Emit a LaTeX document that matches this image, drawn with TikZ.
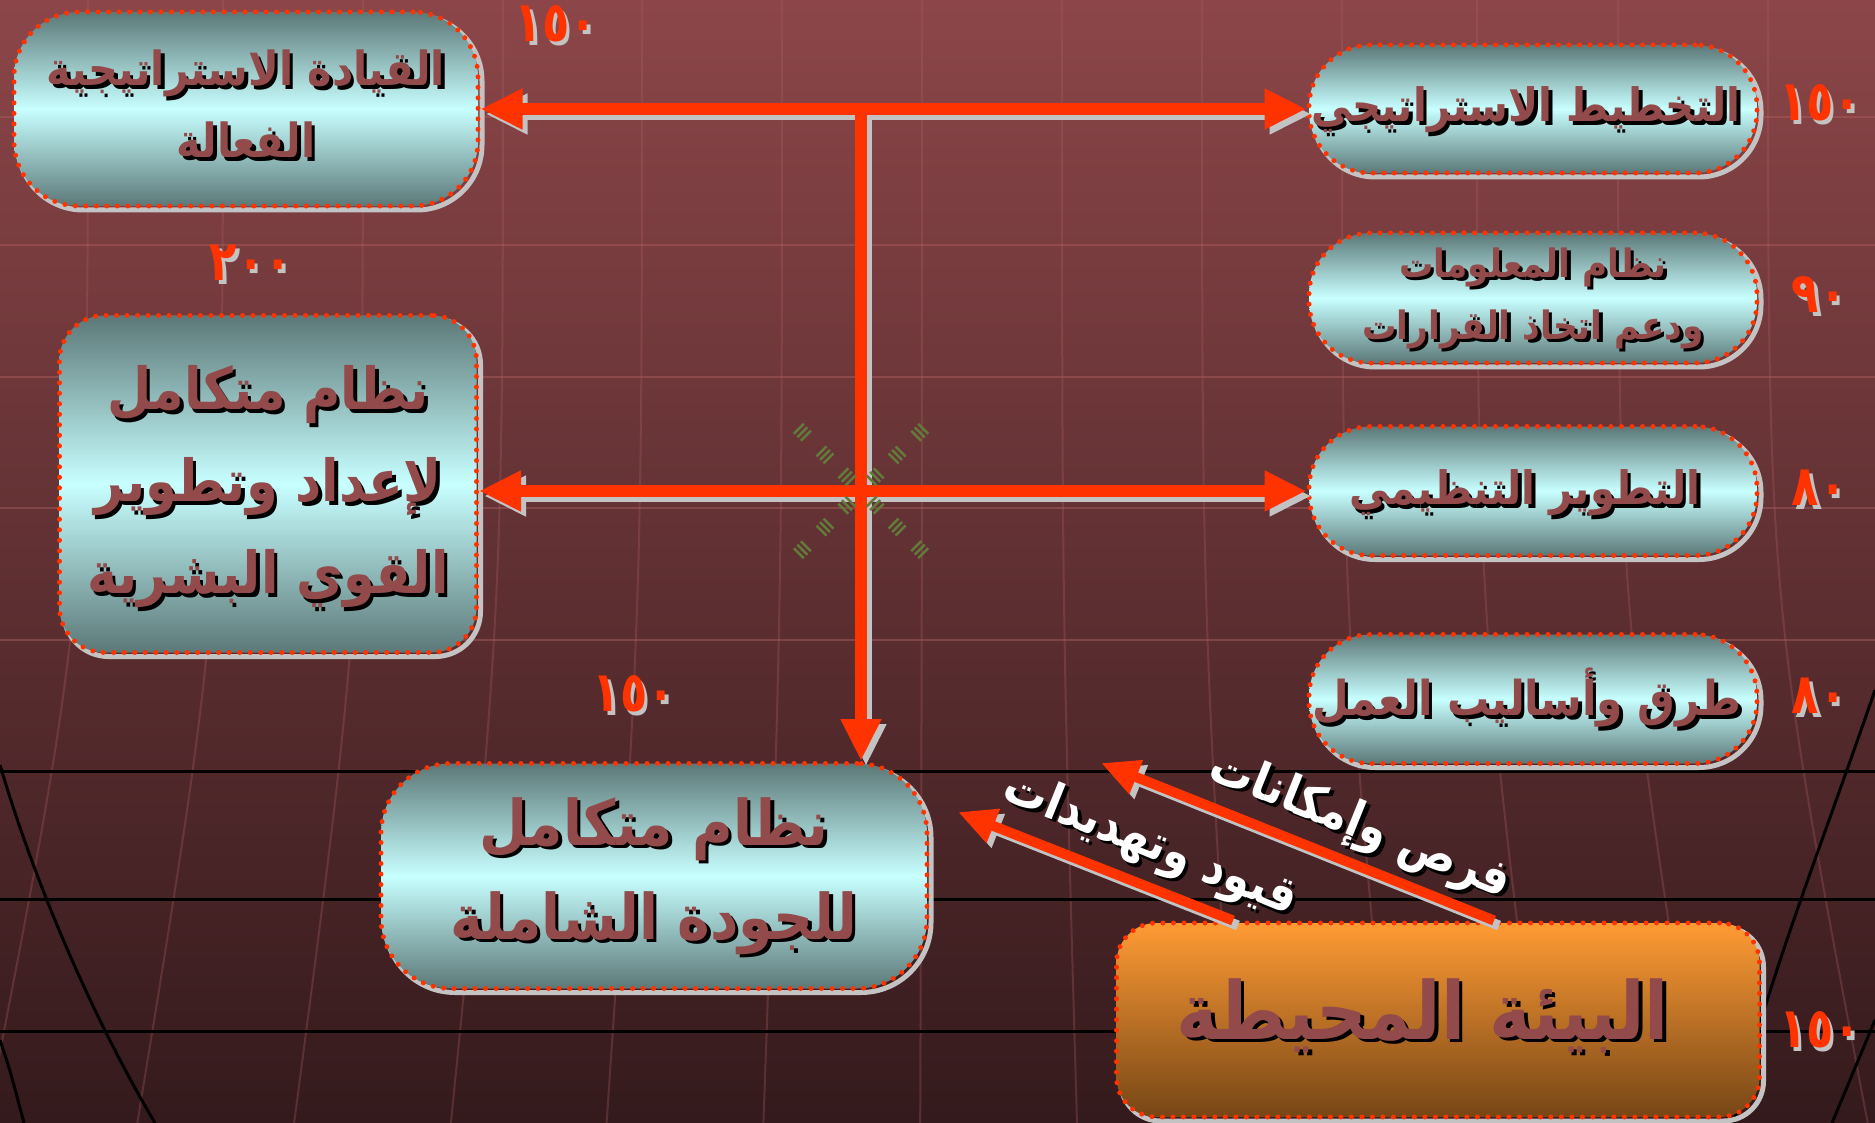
\documentclass[tikz,border=0pt]{standalone}
\usepackage{fontspec}
\usetikzlibrary{arrows.meta,calc}
\TeXXeTstate=1
\newfontfamily\arabicfont[Script=Arabic, FakeStretch=0.88]{DejaVu Sans}
\newfontfamily\digitfont[Script=Arabic, FakeStretch=0.8]{DejaVu Sans}
\newcommand\RTLtxt[1]{\beginR #1\endR}
\definecolor{bgtop}{RGB}{140,70,73}
\definecolor{bgbot}{RGB}{52,26,28}
\definecolor{gridln}{RGB}{175,95,98}
\definecolor{arrred}{RGB}{255,51,0}
\definecolor{shadegray}{RGB}{195,195,195}
\definecolor{boxdark}{RGB}{92,120,120}
\definecolor{boxlight}{RGB}{200,255,255}
\definecolor{orangetop}{RGB}{255,155,52}
\definecolor{orangebot}{RGB}{118,70,22}
\definecolor{txtbrown}{RGB}{146,74,74}
\definecolor{crossgreen}{RGB}{98,122,58}
\tikzset{
 boxbase/.style={rectangle, inner sep=0pt, draw=arrred, line width=5pt, dash pattern=on 0pt off 10.5pt, line cap=round},
 tealbox/.style={boxbase, top color=boxdark, bottom color=boxdark, middle color=boxlight},
 orangebox/.style={boxbase, top color=orangetop, bottom color=orangebot},
 boxshadow/.style={rectangle, inner sep=0pt, draw=shadegray, line width=5pt},
 ar/.style 2 args={font=\arabicfont\bfseries\fontsize{#1}{#2}\selectfont, align=center, inner sep=0pt},
 num/.style={font=\digitfont\bfseries\fontsize{56}{60}\selectfont, inner sep=0pt},
 mainarrow/.style={draw=arrred, line width=12pt},
 shadowarrow/.style={draw=shadegray, line width=12pt, transform canvas={xshift=5pt,yshift=-5pt}},
 bigtip/.style={arrows={-{Triangle[length=42pt,width=38pt]}}},
 bothtip/.style={arrows={{Triangle[length=42pt,width=38pt]}-{Triangle[length=42pt,width=38pt]}}},
 diagtip/.style={arrows={-{Triangle[length=38pt,width=34pt]}}},
}
\newcommand\diagbox[7]{%
 \node[boxshadow, minimum width=#4pt, minimum height=#5pt, rounded corners=#6pt] (#1sh) at (#2+4,#3+4) {};
 \node[#7, minimum width=#4pt, minimum height=#5pt, rounded corners=#6pt] (#1) at (#2,#3) {};}
\newcommand\shtext[6]{%
 \node[#1, text=#4] (#2s) at ([xshift=3.5pt,yshift=-3.5pt]#3) {#6};
 \node[#1, text=#5] (#2) at (#3) {#6};}
\begin{document}
\begin{tikzpicture}[x=1pt,y=-1pt]
\useasboundingbox (0,0) rectangle (1875,1123);
\fill[top color=bgtop, bottom color=bgbot] (0,0) rectangle (1875,1123);
% faint grid
\foreach \y in {117,245,377,508,640}
  \draw[gridln, line width=2pt, opacity=0.45] (0,\y) -- (1875,\y);
\foreach \x in {88,223,363,503,642,782,922,1062,1202,1342,1477,1618,1768}
  \draw[gridln, line width=2pt, opacity=0.3] (\x,0) .. controls (\x,600) .. ({\x+(\x-937)*0.12},1123);
% black globe lines
\foreach \y in {771,899,1031}
  \draw[black, line width=3pt] (0,\y) -- (1875,\y);
\draw[black, line width=3pt] (0,765) .. controls (40,900) and (100,1030) .. (155,1123);
\draw[black, line width=3pt] (0,1040) .. controls (10,1070) .. (24,1123);
\draw[black, line width=3pt] (1875,690) .. controls (1820,850) and (1760,1000) .. (1734,1123);
\draw[black, line width=3pt] (1875,1020) -- (1832,1123);
% boxes
\diagbox{b1}{246}{109}{464}{194}{65}{tealbox}
\diagbox{b2}{1533}{109}{448}{128}{62}{tealbox}
\diagbox{b3}{1533}{298}{448}{130}{62}{tealbox}
\diagbox{b4}{1533}{491}{448}{129}{62}{tealbox}
\diagbox{b5}{1533}{699}{448}{129}{62}{tealbox}
\diagbox{b6}{268}{484}{417}{337}{45}{tealbox}
\diagbox{b7}{654}{876}{546}{225}{70}{tealbox}
\diagbox{b8}{1438}{1020}{643}{194}{40}{orangebox}
% junction and free ends
\coordinate (j1) at (861,109);
\coordinate (h1) at (1101,763);
\coordinate (h2) at (958,812);
% arrow shadows
\draw[shadowarrow, bothtip] (b1.east) -- (b2.west);
\draw[shadowarrow, bothtip] (b6.east |- b4.west) -- (b4.west);
\draw[shadowarrow, bigtip] (j1) -- (j1 |- b7.north);
\draw[shadowarrow, line width=10pt, diagtip] ([xshift=56pt]b8.north) -- (h1);
\draw[shadowarrow, line width=10pt, diagtip] ([xshift=-205pt]b8.north) -- (h2);
% arrows
\draw[mainarrow, bothtip] (b1.east) -- (b2.west);
\draw[mainarrow, bothtip] (b6.east |- b4.west) -- (b4.west);
\draw[mainarrow, bigtip] (j1) -- (j1 |- b7.north);
\draw[mainarrow, line width=10pt, diagtip] ([xshift=56pt]b8.north) -- (h1);
\draw[mainarrow, line width=10pt, diagtip] ([xshift=-205pt]b8.north) -- (h2);
% green cross
\foreach \dx/\dy in {1/1,1/-1,-1/1,-1/-1}
 \foreach \r in {20,51,83}
  \foreach \k in {-5,0,5}
   \draw[crossgreen, line width=2.5pt]
     ({861+\dx*(\r+\k)*0.7071-\dy*5},{491+\dy*(\r+\k)*0.7071+\dx*5}) --
     ({861+\dx*(\r+\k)*0.7071+\dy*5},{491+\dy*(\r+\k)*0.7071-\dx*5});
% box texts
\shtext{ar={47}{72}}{t1}{246,104}{black}{txtbrown}{\RTLtxt{القيادة الاستراتيجية}\\\RTLtxt{الفعالة}}
\shtext{ar={46}{60}}{t2}{1526,110}{black}{txtbrown}{\RTLtxt{التخطيط الاستراتيجي}}
\shtext{ar={39}{62}}{t3}{1533,298}{black}{txtbrown}{\RTLtxt{نظام المعلومات}\\\RTLtxt{ودعم اتخاذ القرارات}}
\shtext{ar={46}{60}}{t4}{1525,493}{black}{txtbrown}{\RTLtxt{التطوير التنظيمي}}
\shtext{ar={48}{60}}{t5}{1527,698}{black}{txtbrown}{\RTLtxt{طرق وأساليب العمل}}
\shtext{ar={58}{92}}{t6}{268,487}{black}{txtbrown}{\RTLtxt{نظام متكامل}\\\RTLtxt{لإعداد وتطوير}\\\RTLtxt{القوي البشرية}}
\shtext{ar={63}{94}}{t7}{654,876}{black}{txtbrown}{\RTLtxt{نظام متكامل}\\\RTLtxt{للجودة الشاملة}}
\shtext{ar={80}{90}}{t8}{1423,1016}{black}{txtbrown}{\RTLtxt{البيئة المحيطة}}
% diagonal labels
\shtext{ar={50}{60}, rotate=-22}{l1}{1360,826}{black}{white}{\RTLtxt{فرص وإمكانات}}
\shtext{ar={50}{60}, rotate=-22}{l2}{1150,845}{black}{white}{\RTLtxt{قيود وتهديدات}}
% numbers
\shtext{num}{n1}{556,24}{shadegray}{arrred}{١٥٠}
\shtext{num}{n2}{1820,103}{shadegray}{arrred}{١٥٠}
\shtext{num}{n3}{1819,295}{shadegray}{arrred}{٩٠}
\shtext{num}{n4}{251,263}{shadegray}{arrred}{٢٠٠}
\shtext{num}{n5}{1819,488}{shadegray}{arrred}{٨٠}
\shtext{num}{n6}{1819,696}{shadegray}{arrred}{٨٠}
\shtext{num}{n7}{634,694}{shadegray}{arrred}{١٥٠}
\shtext{num}{n8}{1820,1030}{shadegray}{arrred}{١٥٠}
\end{tikzpicture}
\end{document}
